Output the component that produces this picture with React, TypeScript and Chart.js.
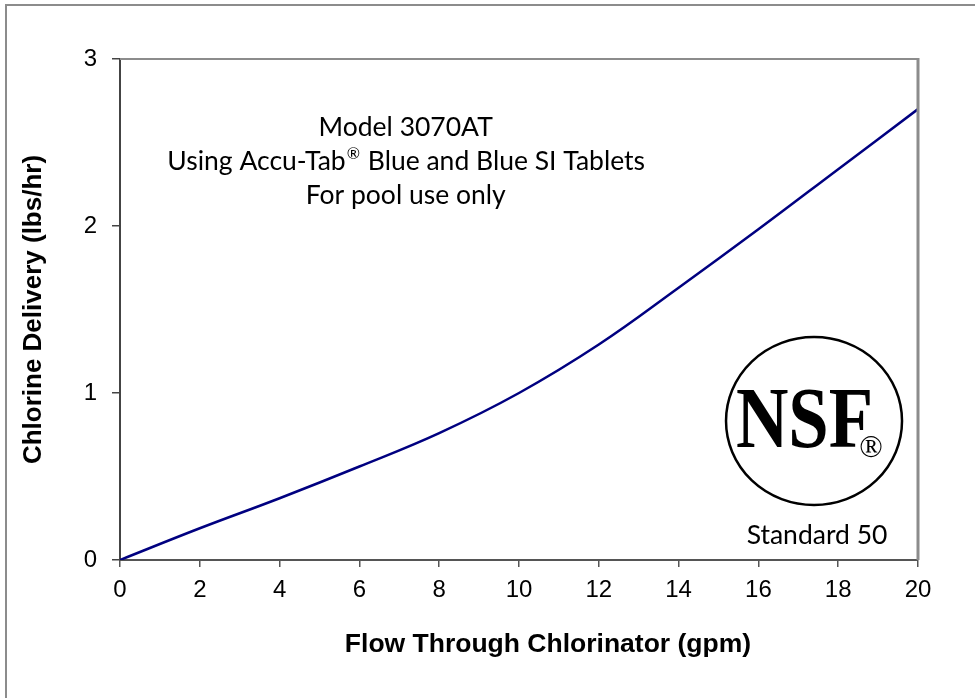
import React, { useEffect, useRef } from "react";
import { Chart, registerables } from "chart.js";

Chart.register(...registerables);

const flowGpm = [0, 2, 4, 6, 8, 10, 12, 14, 16, 18, 20];
const chlorineLbsHr = [0, 0.19, 0.37, 0.56, 0.76, 1.0, 1.29, 1.63, 1.98, 2.34, 2.7];
const noteLine1 = "Model 3070AT";
const noteLine2a = "Using Accu-Tab";
const noteLine2b = "®";
const noteLine2c = " Blue and Blue SI Tablets";
const noteLine3 = "For pool use only";
const logoText = "NSF";
const logoCaption = "Standard 50";
const xTitle = "Flow Through Chlorinator (gpm)";
const yTitle = "Chlorine Delivery (lbs/hr)";

const W = 975;
const H = 698;
const NOTE_FONT = '26.5px Lato, "Open Sans", sans-serif';
const SUP_FONT = '16px Lato, "Open Sans", sans-serif';
const TITLE_FONT = 'bold 26.5px "Liberation Sans", Arial, sans-serif';

const decorPlugin = {
  id: "decor",
  beforeDraw(chart: any) {
    const ctx = chart.ctx;
    ctx.save();
    ctx.fillStyle = "#ffffff";
    ctx.fillRect(0, 0, W, H);
    ctx.strokeStyle = "#8c8c8c";
    ctx.lineWidth = 2;
    ctx.beginPath();
    ctx.moveTo(6, H + 2);
    ctx.lineTo(6, 5);
    ctx.lineTo(W + 2, 5);
    ctx.stroke();
    ctx.restore();
  },
  afterDraw(chart: any) {
    const ctx = chart.ctx;
    const a = chart.chartArea;
    const w = a.right - a.left;
    const h = a.bottom - a.top;
    ctx.save();
    ctx.strokeStyle = "#8c8c8c";
    ctx.lineWidth = 2;
    ctx.beginPath();
    ctx.moveTo(a.left, a.top);
    ctx.lineTo(a.right, a.top);
    ctx.stroke();
    ctx.lineWidth = 3;
    ctx.beginPath();
    ctx.moveTo(a.right, a.top - 1);
    ctx.lineTo(a.right, a.bottom);
    ctx.stroke();

    // x axis title (offset right of centre, as in the source)
    ctx.fillStyle = "#000000";
    ctx.font = TITLE_FONT;
    ctx.textAlign = "center";
    ctx.textBaseline = "alphabetic";
    ctx.fillText(xTitle, a.left + w * 0.5363, a.bottom + 92);

    // annotation text
    ctx.font = NOTE_FONT;
    ctx.textBaseline = "middle";
    ctx.textAlign = "center";
    const cx = a.left + w * 0.358;
    const y0 = a.top + h * 0.136;
    ctx.fillText(noteLine1, cx, y0);
    ctx.fillText(noteLine3, cx, y0 + 68);
    ctx.textAlign = "left";
    const wa = ctx.measureText(noteLine2a).width;
    const wc = ctx.measureText(noteLine2c).width;
    ctx.font = SUP_FONT;
    const wb = ctx.measureText(noteLine2b).width + 1;
    const total = wa + wb + wc;
    let sx = cx - total / 2;
    ctx.font = NOTE_FONT;
    ctx.fillText(noteLine2a, sx, y0 + 34);
    sx += wa + 1;
    ctx.font = SUP_FONT;
    ctx.fillText(noteLine2b, sx, y0 + 34 - 7);
    sx += wb;
    ctx.font = NOTE_FONT;
    ctx.fillText(noteLine2c, sx, y0 + 34);

    // NSF logo
    const lx = a.left + w * 0.8697;
    const ly = a.top + h * 0.7226;
    ctx.strokeStyle = "#000000";
    ctx.lineWidth = 2.5;
    ctx.beginPath();
    ctx.ellipse(lx, ly, 88, 84, 0, 0, Math.PI * 2);
    ctx.stroke();

    ctx.save();
    ctx.translate(lx - 9.5, ly + 26);
    ctx.scale(0.845, 1);
    ctx.font = 'bold 86px "Liberation Serif", serif';
    ctx.textAlign = "center";
    ctx.textBaseline = "alphabetic";
    ctx.fillText(logoText, 0, 0);
    ctx.restore();

    ctx.font = '31px "Liberation Serif", serif';
    ctx.textAlign = "center";
    ctx.textBaseline = "alphabetic";
    ctx.fillText("®", lx + 57, ly + 36);

    ctx.font = NOTE_FONT;
    ctx.textAlign = "center";
    ctx.textBaseline = "middle";
    ctx.fillText(logoCaption, lx + 3, a.top + h * 0.952);
    ctx.restore();
  },
};

export default function App() {
  const ref = useRef<HTMLCanvasElement | null>(null);

  useEffect(() => {
    if (!ref.current) return;
    const tickFont = { family: '"Liberation Sans", Arial, sans-serif', size: 24 };
    const titleFont = { family: '"Liberation Sans", Arial, sans-serif', size: 26, weight: "bold" as const };
    const chart = new Chart(ref.current, {
      type: "line",
      data: {
        datasets: [
          {
            data: flowGpm.map((x, i) => ({ x, y: chlorineLbsHr[i] })),
            borderColor: "#000080",
            borderWidth: 2.5,
            pointRadius: 0,
            tension: 0.4,
            fill: false,
          },
        ],
      },
      options: {
        responsive: false,
        animation: false,
        devicePixelRatio: 1,
        layout: { padding: { left: 0, top: 59, right: W - 918, bottom: 0 } },
        plugins: { legend: { display: false }, tooltip: { enabled: false } },
        scales: {
          x: {
            type: "linear",
            min: 0,
            max: 20,
            ticks: { stepSize: 2, color: "#000000", font: tickFont, padding: 9, maxRotation: 0 },
            grid: { drawOnChartArea: false, drawTicks: true, tickLength: 7, color: "#555555", lineWidth: 1.5 },
            border: { display: true, color: "#555555", width: 2 },
            title: { display: false, text: xTitle },
            afterFit(scale: any) {
              scale.height = H - 560;
            },
          },
          y: {
            min: 0,
            max: 3,
            ticks: { stepSize: 1, color: "#000000", font: tickFont, padding: 15 },
            grid: { drawOnChartArea: false, drawTicks: true, tickLength: 8, color: "#444444", lineWidth: 1.5 },
            border: { display: true, color: "#444444", width: 2 },
            title: { display: true, text: yTitle, color: "#000000", font: titleFont, padding: { top: 18, bottom: 0 } },
            afterFit(scale: any) {
              scale.width = 120;
            },
          },
        },
      },
      plugins: [decorPlugin],
    });
    return () => chart.destroy();
  }, []);

  return (
    <div style={{ position: "absolute", left: 0, top: 0, width: W, height: H, background: "#fff" }}>
      <canvas ref={ref} width={W} height={H} style={{ display: "block", width: W, height: H }} />
    </div>
  );
}
